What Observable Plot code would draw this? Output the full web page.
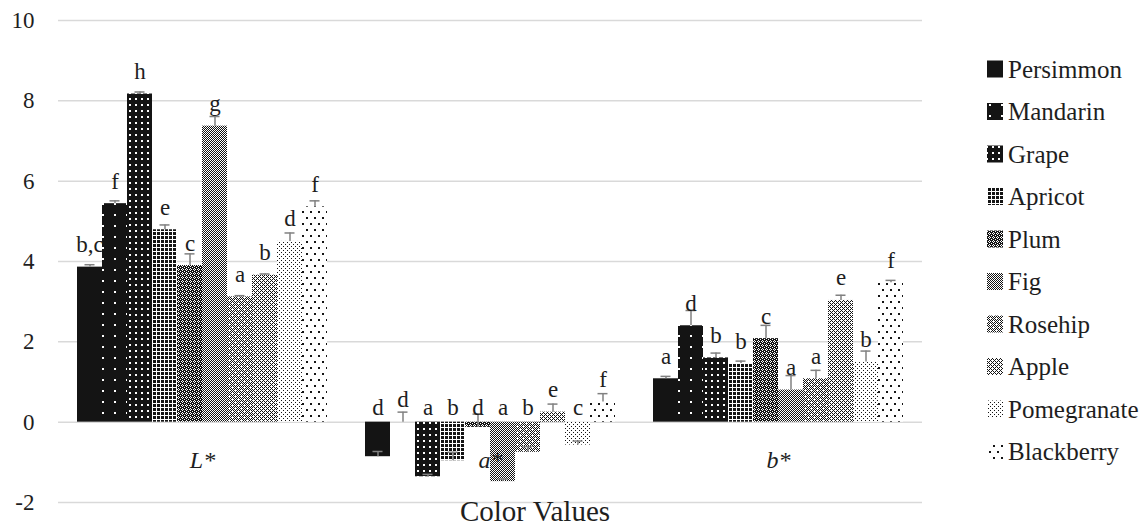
<!DOCTYPE html>
<html>
<head>
<meta charset="utf-8">
<script src="https://cdn.jsdelivr.net/npm/d3@7"></script>
<script src="https://cdn.jsdelivr.net/npm/@observablehq/plot@0.6"></script>
<style>
  html, body { margin: 0; padding: 0; background: #fff; }
  #wrap { position: relative; width: 1146px; height: 526px; font-family: "Liberation Serif", "Times New Roman", Times, "DejaVu Serif", serif; }
  #wrap svg { position: absolute; left: 0; top: 0; }
  #wrap svg, #wrap svg text { font-family: "Liberation Serif", "Times New Roman", Times, "DejaVu Serif", serif !important; }
</style>
</head>
<body>
<div id="wrap"></div>
<script>
// ---- data ----
const fruits = ["Persimmon","Mandarin","Grape","Apricot","Plum","Fig","Rosehip","Apple","Pomegranate","Blackberry"];
const groups = ["L*","a*","b*"];
const yTicks = [-2, 0, 2, 4, 6, 8, 10];

const valuesL = [3.86, 5.44, 8.17, 4.79, 3.90, 7.37, 3.12, 3.66, 4.50, 5.36];
const errorsL = [0.06, 0.07, 0.05, 0.12, 0.29, 0.24, 0.03, 0.03, 0.21, 0.15];
const lettersL = ["b,c","f","h","e","c","g","a","b","d","f"];

const valuesA = [-0.86, 0.00, -1.36, -0.96, -0.13, -1.48, -0.75, 0.25, -0.57, 0.50];
const errorsA = [0.13, 0.25, 0.06, 0.21, 0.33, 0.06, 0.14, 0.20, 0.10, 0.21];
const lettersA = ["d","d","a","b","d","a","b","e","c","f"];

const valuesB = [1.08, 2.40, 1.60, 1.46, 2.08, 0.80, 1.08, 3.03, 1.50, 3.47];
const errorsB = [0.06, 0.38, 0.12, 0.06, 0.33, 0.36, 0.21, 0.13, 0.27, 0.06];
const lettersB = ["a","d","b","b","c","a","a","e","b","f"];

const xTitle = "Color Values";

// ---- table built from the arrays ----
const seriesVals = [valuesL, valuesA, valuesB];
const seriesErrs = [errorsL, errorsA, errorsB];
const seriesLets = [lettersL, lettersA, lettersB];
const table = [];
groups.forEach((g, gi) => fruits.forEach((f, i) => table.push({
  group: g, fruit: f, value: seriesVals[gi][i], err: seriesErrs[gi][i], letter: seriesLets[gi][i]
})));

// ---- fill patterns (Excel-like monochrome textures) ----
const wrap = d3.select("#wrap");
const defsSvg = wrap.append("svg").attr("width", 0).attr("height", 0).style("position","absolute");
const defs = defsSvg.append("defs");
function pattern(id, w, h, bg, fg, pixels, s = 1) {
  const p = defs.append("pattern").attr("id", id).attr("patternUnits", "userSpaceOnUse")
    .attr("width", w).attr("height", h);
  p.append("rect").attr("width", w).attr("height", h).attr("fill", bg);
  for (const [x, y] of pixels) {
    p.append("rect").attr("x", x).attr("y", y).attr("width", s).attr("height", s)
      .attr("fill", fg).attr("shape-rendering", "crispEdges");
  }
}
function checker(n, skip) {
  const px = [];
  for (let y = 0; y < n; y++) for (let x = 0; x < n; x++)
    if ((x + y) % 2 === 0 && !skip.some(([a, b]) => a === x && b === y)) px.push([x, y]);
  return px;
}
pattern("pat0", 4, 4, "#141414", "#141414", []);
pattern("pat1", 12, 11, "#141414", "#ffffff", [[5, 5]], 1.6);
pattern("pat2", 6, 6, "#141414", "#ffffff", [[2, 2]], 1.5);
pattern("pat3", 4, 4, "#141414", "#ffffff", [[3,0],[3,1],[3,2],[3,3],[0,3],[1,3],[2,3]], 1);
pattern("pat4", 4, 4, "#141414", "#ffffff", [[0,1],[1,0],[1,2],[2,1],[3,3]], 1);
pattern("pat5", 2, 2, "#ffffff", "#141414", [[0,0],[1,1]], 1);
pattern("pat6", 6, 6, "#ffffff", "#141414", checker(6, [[0,0],[3,3]]), 1);
pattern("pat7", 4, 4, "#ffffff", "#141414", checker(4, [[0,0],[2,2]]), 1);
pattern("pat8", 4, 4, "#ffffff", "#141414", [[0,0],[2,2]], 1.3);
pattern("pat9", 8, 12, "#ffffff", "#141414", [[1,1],[5,7]], 1.5);
const patUrls = fruits.map((_, i) => `url(#pat${i})`);

// ---- chart ----
const fontStack = '"Liberation Serif", "Times New Roman", Times, "DejaVu Serif", serif';
const textColor = "#1e1e1e";
const chart = Plot.plot({
  width: 1146,
  height: 526,
  marginLeft: 57,
  marginRight: 224,
  marginTop: 20,
  marginBottom: 24,
  style: {
    fontFamily: fontStack,
    fontSize: "23px",
    color: textColor,
    background: "transparent",
    overflow: "visible"
  },
  fx: { domain: groups, padding: 0, axis: null },
  x: { domain: fruits, paddingInner: 0, paddingOuter: 0.756, axis: null },
  y: { domain: [-2, 10], ticks: yTicks, tickSize: 0, tickPadding: 24, label: null, tickFormat: d => String(d) },
  color: { domain: fruits, range: patUrls },
  marks: [
    Plot.gridY(yTicks, { stroke: "#d9d9d9", strokeOpacity: 1, strokeWidth: 1.5 }),
    Plot.barY(table, { fx: "group", x: "fruit", y: "value", fill: "fruit" }),
    Plot.ruleX(table, { fx: "group", x: "fruit", y1: "value", y2: d => d.value + d.err, stroke: "#808080", strokeWidth: 1.5 }),
    Plot.tickY(table, { fx: "group", x: "fruit", y: d => d.value + d.err, stroke: "#808080", strokeWidth: 1.5, insetLeft: 7.5, insetRight: 7.5 }),
    Plot.text(table.filter(d => d.value >= 0), { fx: "group", x: "fruit", y: "value", text: "letter", lineAnchor: "bottom", dy: -15, fontSize: 23, fill: textColor }),
    Plot.text(table.filter(d => d.value < 0), { fx: "group", x: "fruit", y: () => 0, text: "letter", lineAnchor: "bottom", dy: -7, fontSize: 23, fill: textColor }),
    Plot.text(groups, { fx: d => d, y: () => -1, text: d => d, lineAnchor: "bottom", dy: 6, fontSize: 24, fontStyle: "italic", fill: textColor })
  ]
});
wrap.node().appendChild(chart);

// ---- legend and axis title overlay ----
const over = wrap.append("svg").attr("width", 1146).attr("height", 526)
  .style("pointer-events", "none")
  .attr("font-family", fontStack);
fruits.forEach((f, i) => {
  const base = 77.5 + 42.5 * i;
  over.append("rect").attr("x", 987).attr("y", base - 17).attr("width", 16).attr("height", 17)
    .attr("fill", patUrls[i]);
  over.append("text").attr("x", 1008).attr("y", base).attr("font-size", 25)
    .attr("fill", textColor).text(f);
});
over.append("text").attr("x", 535).attr("y", 521).attr("text-anchor", "middle")
  .attr("font-size", 29).attr("fill", textColor).text(xTitle);
</script>
</body>
</html>
